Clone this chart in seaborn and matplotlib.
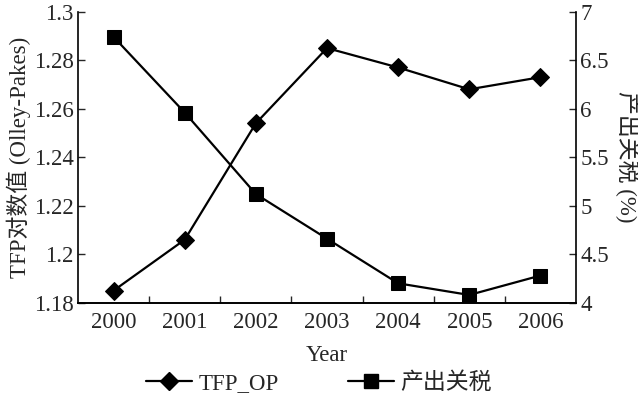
import matplotlib
matplotlib.use("Agg")
import matplotlib.pyplot as plt
import seaborn as sns
import pandas as pd
from matplotlib.lines import Line2D

years = [2000, 2001, 2002, 2003, 2004, 2005, 2006]
tfp_op = [1.185, 1.206, 1.254, 1.285, 1.277, 1.268, 1.273]
output_tariff = [6.74, 5.96, 5.12, 4.66, 4.20, 4.08, 4.28]

sns.set_theme(style="ticks")
plt.rcParams['font.family'] = ['Liberation Serif', 'Noto Sans CJK SC']
plt.rcParams['axes.unicode_minus'] = False

df = pd.DataFrame({"Year": years, "TFP_OP": tfp_op, "产出关税": output_tariff})

fig = plt.figure(figsize=(6.38, 4.04), dpi=100)
ax = fig.add_axes([0.1223, 0.2507, 0.7805, 0.7203])
ax2 = ax.twinx()

sns.lineplot(data=df, x="Year", y="TFP_OP", ax=ax, color="black", lw=1.6,
             marker="D", markersize=9, markeredgecolor="black", legend=False)
sns.lineplot(data=df, x="Year", y="产出关税", ax=ax2, color="black", lw=1.6,
             marker="s", markersize=10, markeredgecolor="black", legend=False)

fs = 16.5
ax.set_xlim(years[0] - 0.5, years[-1] + 0.5)
ax.set_ylim(1.18, 1.30)
ax.set_yticks([1.18, 1.20, 1.22, 1.24, 1.26, 1.28, 1.30])
ax.set_yticklabels(["1.18", "1.2", "1.22", "1.24", "1.26", "1.28", "1.3"], fontsize=fs)
ax.set_xticks(years)
ax.set_xticklabels([str(y) for y in years], fontsize=fs)
ax.set_xticks([y + 0.5 for y in years[:-1]], minor=True)
ax.tick_params(axis="x", which="major", length=0, pad=7)
ax.tick_params(axis="x", which="minor", length=5, direction="in", width=1)
ax.tick_params(axis="y", direction="in", length=5, width=1, pad=3)

ax2.set_ylim(4, 7)
ax2.set_yticks([4, 4.5, 5, 5.5, 6, 6.5, 7])
ax2.set_yticklabels(["4", "4.5", "5", "5.5", "6", "6.5", "7"], fontsize=fs)
ax2.tick_params(axis="y", direction="in", length=5, width=1, pad=3)

for a in (ax, ax2):
    a.spines["top"].set_visible(False)
    for s in a.spines.values():
        s.set_linewidth(1.2)
        s.set_color("black")
ax2.spines["left"].set_visible(False)
ax.spines["right"].set_visible(False)

ax.set_xlabel("Year", fontsize=fs, labelpad=8)
ax.set_ylabel("TFP对数值 (Olley-Pakes)", fontsize=fs, labelpad=2)
ax2.set_ylabel("产出关税 (%)", fontsize=fs, rotation=-90, labelpad=22)

handles = [
    Line2D([], [], color="black", lw=1.6, marker="D", markersize=9),
    Line2D([], [], color="black", lw=1.6, marker="s", markersize=10),
]
fig.legend(handles, ["TFP_OP", "产出关税"], loc="center", bbox_to_anchor=(0.5, 0.052),
           ncol=2, frameon=False, fontsize=fs, handlelength=2.0, columnspacing=3.0,
           handletextpad=0.3)

fig.savefig("out.png", dpi=100)
